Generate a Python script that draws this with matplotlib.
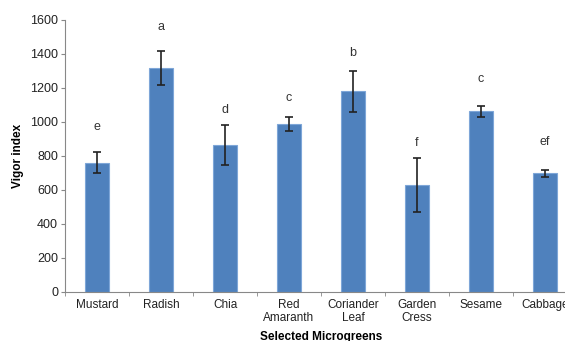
import matplotlib
matplotlib.use("Agg")
import matplotlib.pyplot as plt

categories = ["Mustard", "Radish", "Chia", "Red\nAmaranth", "Coriander\nLeaf", "Garden\nCress", "Sesame", "Cabbage"]
values = [760, 1315, 865, 990, 1180, 628, 1063, 698]
errors = [62, 100, 120, 40, 120, 158, 32, 20]
letters = ["e", "a", "d", "c", "b", "f", "c", "ef"]
letter_y = [970, 1559, 1071, 1141, 1406, 876, 1253, 882]
yticks = [0, 200, 400, 600, 800, 1000, 1200, 1400, 1600]

plt.rcParams['font.family'] = ['Liberation Sans', 'DejaVu Sans']

fig = plt.figure(figsize=(5.65, 3.41), dpi=100)
ax = fig.add_axes([65/565, 49/341, 512/565, 272/341])

x = list(range(len(categories)))
ax.bar(x, values, width=0.39, color="#4F81BD", edgecolor="#7EA6D8", linewidth=0.8,
       yerr=errors, error_kw=dict(ecolor="#222222", elinewidth=1.2, capsize=3, capthick=1.2))
for xi, lt, ly in zip(x, letters, letter_y):
    ax.text(xi, ly, lt, ha="center", va="center", fontsize=9, color="#333333")

ax.set_xlim(-0.5, len(categories) - 0.5)
ax.set_ylim(0, 1600)
ax.set_yticks(yticks)
ax.set_yticklabels([str(t) for t in yticks], fontsize=9, color="#222222")
ax.set_xticks(x)
ax.set_xticklabels(categories, fontsize=8.5, linespacing=1.15, color="#222222")
ax.set_xticks([i + 0.5 for i in range(-1, len(categories))], minor=True)
ax.tick_params(axis="x", which="major", length=0, pad=5)
ax.tick_params(axis="x", which="minor", length=3, color="#888888", direction="out")
ax.tick_params(axis="y", length=3, color="#888888", pad=2)
for s in ["top", "right"]:
    ax.spines[s].set_visible(False)
ax.spines["left"].set_color("#888888")
ax.spines["bottom"].set_color("#888888")
ax.set_ylabel("Vigor index", fontsize=8.5, fontweight="bold", labelpad=4)
ax.set_xlabel("Selected Microgreens", fontsize=8.5, fontweight="bold", labelpad=5)

fig.savefig("out.png", dpi=100)
